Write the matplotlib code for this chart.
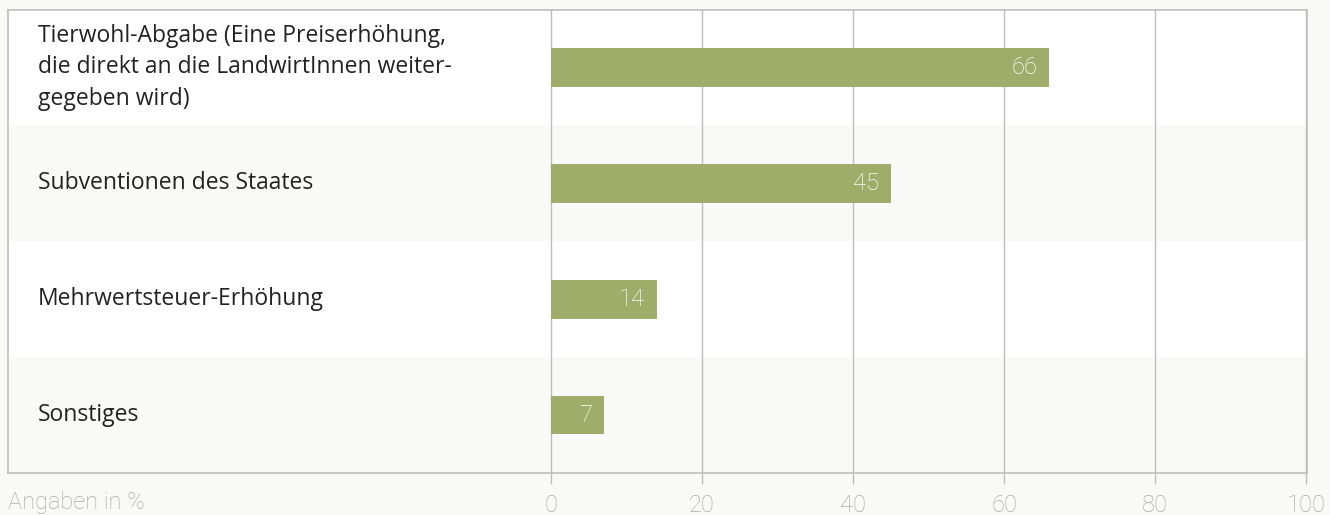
import matplotlib.pyplot as plt

categories = [
    "Tierwohl-Abgabe (Eine Preiserhöhung,\ndie direkt an die LandwirtInnen weiter-\ngegeben wird)",
    "Subventionen des Staates",
    "Mehrwertsteuer-Erhöhung",
    "Sonstiges",
]
values = [66, 45, 14, 7]
ticks = [0, 20, 40, 60, 80, 100]

BAR = "#9fad6a"
BG = "#f9f9f7"
LINE = "#bdbdbd"

plt.rcParams["font.family"] = ["Roboto", "DejaVu Sans"]

fig = plt.figure(figsize=(13.3, 5.15), dpi=100, facecolor=BG)
W, H = 1330, 515
x0, x1 = 8, 1307
top, bot = 9.5, 473
ax = fig.add_axes([x0 / W, (H - bot) / H, (x1 - x0) / W, (bot - top) / H])

# data scale: 0 at px 551, 100 at px 1306
px_per = (1306 - 551) / 100
ax.set_xlim(-(551 - x0) / px_per, 100 + (x1 - 1306) / px_per)
ax.set_ylim(len(categories), 0)
ax.set_facecolor("white")

for i in range(len(categories)):
    if i % 2 == 1:
        ax.axhspan(i, i + 1, color=BG, zorder=0, lw=0)

for t in ticks:
    ax.axvline(t, color=LINE, lw=1, zorder=1)

ypos = [i + 0.5 for i in range(len(categories))]
ax.barh(ypos, values, height=0.335, color=BAR, zorder=2)

for y, v in zip(ypos, values):
    ax.text(v - 1.6, y, str(v), color="white", ha="right", va="center",
            fontsize=17, fontweight="light", zorder=3)

for y, c in zip(ypos, categories):
    ax.text((38 - x0) / (x1 - x0), y, c, transform=ax.get_yaxis_transform(),
            ha="left", va="center", fontsize=16.5, color="#222222",
            family=["Open Sans", "DejaVu Sans"], linespacing=1.4)

for s in ["left", "right", "top", "bottom"]:
    ax.spines[s].set_color(LINE)
    ax.spines[s].set_linewidth(1.2)

ax.set_yticks([])
ax.set_xticks(ticks)
ax.set_xticklabels([str(t) for t in ticks], fontsize=17, color="#aaaaaa",
                   fontweight="light")
ax.tick_params(axis="x", length=8, width=1, color=LINE, direction="out", pad=7)

fig.text(x0 / W, (H - 503) / H, "Angaben in %", ha="left", va="center",
         fontsize=17, color="#aaaaaa", fontweight="light")

fig.savefig("out.png", dpi=100, facecolor=BG)
